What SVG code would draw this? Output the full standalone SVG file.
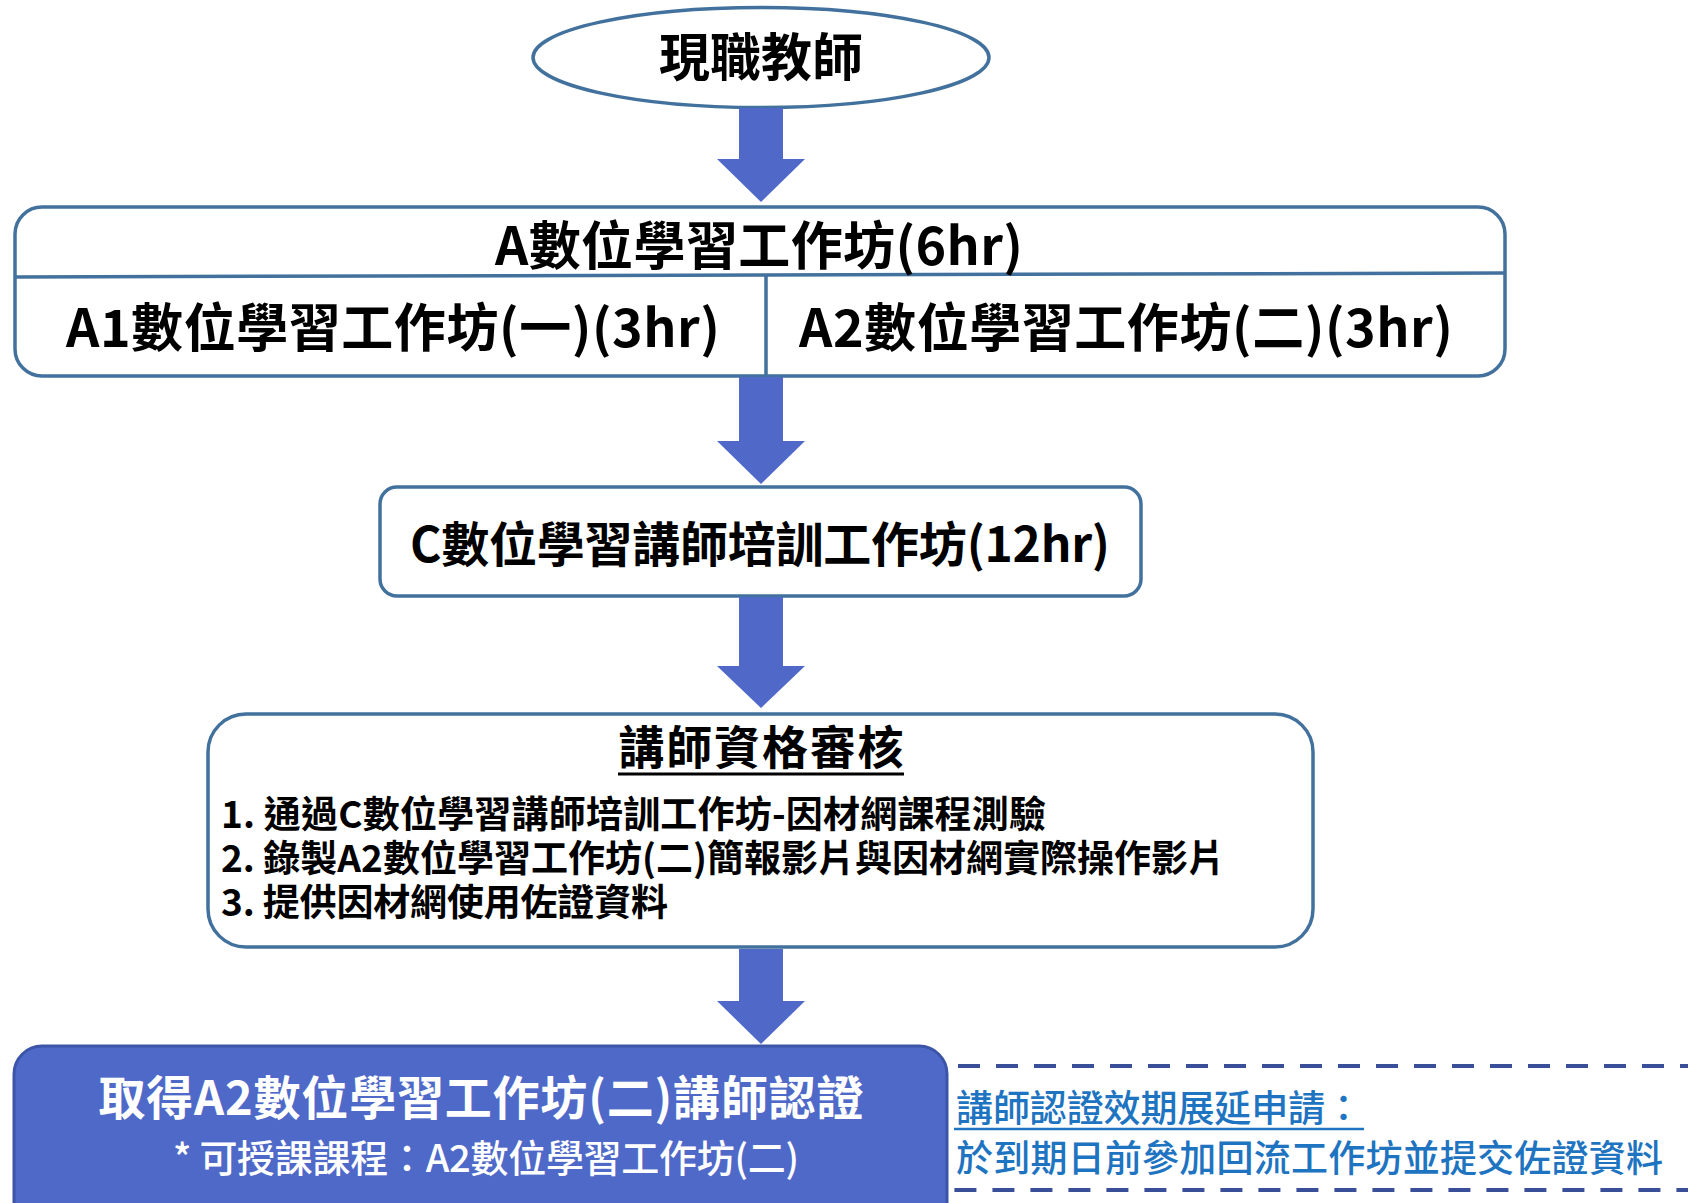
<svg xmlns="http://www.w3.org/2000/svg" width="1688" height="1203" viewBox="0 0 1688 1203">
<defs>
<style>
.node{fill:#ffffff;stroke:#41719C;stroke-width:3.5}
.arrow{fill:#5069C9}
.t{font-family:"Noto Sans CJK TC","Noto Sans CJK SC",sans-serif;font-weight:700;fill:#000}
.mid{text-anchor:middle}
.blue{font-family:"Noto Sans CJK TC","Noto Sans CJK SC",sans-serif;font-weight:500;fill:#1E74C0;font-size:37px}
</style>
</defs>
<rect width="1688" height="1203" fill="#ffffff"/>

<g id="note-extension">
<rect x="900" y="1066" width="850" height="124" rx="20" fill="none" stroke="#3A4F9A" stroke-width="4" stroke-dasharray="22 16"/>
<text class="blue" x="956" y="1122" textLength="406">講師認證效期展延申請：</text>
<line x1="954" y1="1129" x2="1364" y2="1129" stroke="#1E74C0" stroke-width="2.5"/>
<text class="blue" x="956" y="1172" textLength="707">於到期日前參加回流工作坊並提交佐證資料</text>
</g>

<g id="node-teacher">
<ellipse cx="761" cy="57.5" rx="228" ry="50" class="node"/>
<text class="t mid" x="761" y="76" font-size="51">現職教師</text>
</g>

<g id="node-A">
<rect x="15" y="207" width="1490" height="169" rx="27" class="node"/>
<line x1="15" y1="277" x2="1505" y2="273" stroke="#41719C" stroke-width="3.5"/>
<line x1="766" y1="275" x2="766" y2="376" stroke="#41719C" stroke-width="3.5"/>
<text class="t mid" x="759" y="265" font-size="52" textLength="528">A數位學習工作坊(6hr)</text>
<text class="t mid" x="393" y="347" font-size="52" textLength="654">A1數位學習工作坊(一)(3hr)</text>
<text class="t mid" x="1126" y="347" font-size="52" textLength="654">A2數位學習工作坊(二)(3hr)</text>
</g>

<g id="node-C">
<rect x="380" y="487" width="761" height="109" rx="17" class="node"/>
<text class="t mid" x="760" y="562" font-size="48" textLength="700">C數位學習講師培訓工作坊(12hr)</text>
</g>

<g id="node-review">
<rect x="208" y="714" width="1105" height="233" rx="38" class="node"/>
<text class="t mid" x="761" y="764" font-size="46" textLength="285">講師資格審核</text>
<line x1="618" y1="774" x2="904" y2="774" stroke="#000" stroke-width="3"/>
<text class="t" x="221" y="828" font-size="37" textLength="825">1. 通過C數位學習講師培訓工作坊-因材網課程測驗</text>
<text class="t" x="221" y="872" font-size="37" textLength="1004">2. 錄製A2數位學習工作坊(二)簡報影片與因材網實際操作影片</text>
<text class="t" x="221" y="916" font-size="37" textLength="447">3. 提供因材網使用佐證資料</text>
</g>

<g id="node-cert">
<rect x="14" y="1046" width="933" height="200" rx="28" fill="#4F69C9" stroke="#3D55A8" stroke-width="3"/>
<text class="t mid" x="481" y="1115" font-size="47" fill="#ffffff" style="fill:#ffffff" textLength="765">取得A2數位學習工作坊(二)講師認證</text>
<text class="mid" x="486" y="1172" font-size="38" style="fill:#ffffff;font-family:'Noto Sans CJK TC','Noto Sans CJK SC',sans-serif;font-weight:500" textLength="626">* 可授課課程：A2數位學習工作坊(二)</text>
</g>

<g id="connectors">
<polygon class="arrow" points="739,108 783,108 783,159 805,159 761,202 717,159 739,159"/>
<polygon class="arrow" points="739,377 783,377 783,441 805,441 761,484 717,441 739,441"/>
<polygon class="arrow" points="739,597 783,597 783,666 805,666 761,708 717,666 739,666"/>
<polygon class="arrow" points="739,949 783,949 783,1001 805,1001 761,1044 717,1001 739,1001"/>
</g>
</svg>
